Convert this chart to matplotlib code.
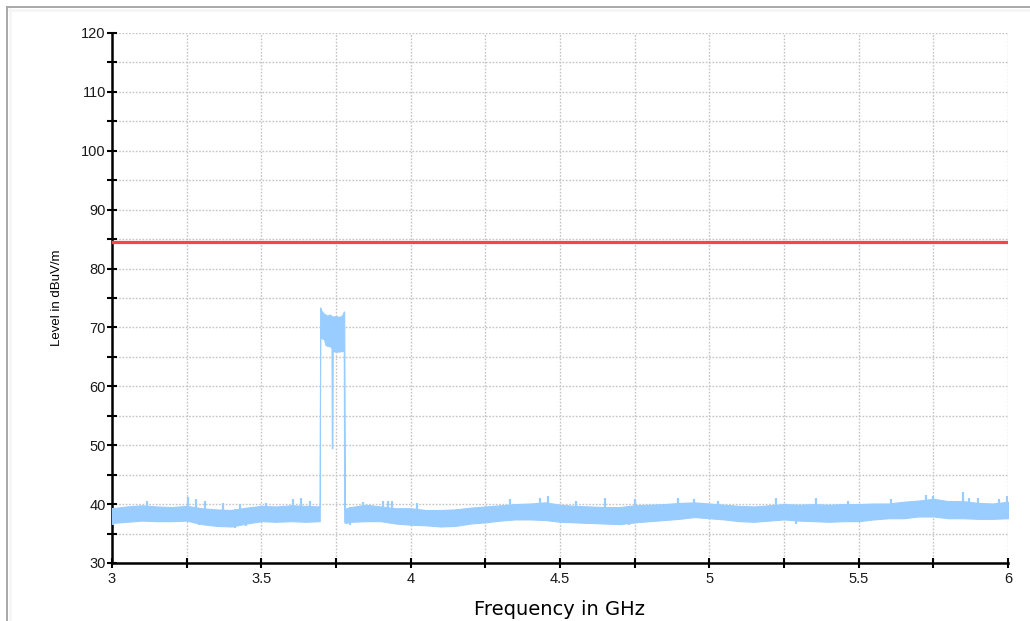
import matplotlib
matplotlib.use("Agg")
import matplotlib.pyplot as plt
from matplotlib.lines import Line2D
from matplotlib.ticker import MultipleLocator, FuncFormatter
import numpy as np

plt.rcParams['font.family'] = ['Liberation Sans', 'DejaVu Sans']

# Emission limit (dBuV/m)
limit_level = 84.5

# Background noise floor: envelope of the swept trace (GHz, dBuV/m)
floor_freq = [3.00, 3.05, 3.10, 3.15, 3.20, 3.25, 3.30, 3.35, 3.40, 3.45,
              3.50, 3.55, 3.60, 3.65, 3.695,
              3.78, 3.80, 3.85, 3.90, 3.95, 4.00, 4.05, 4.10, 4.15, 4.20,
              4.25, 4.30, 4.35, 4.40, 4.45, 4.50, 4.55, 4.60, 4.65, 4.70,
              4.75, 4.80, 4.85, 4.90, 4.95, 5.00, 5.05, 5.10, 5.15, 5.20,
              5.25, 5.30, 5.35, 5.40, 5.45, 5.50, 5.55, 5.60, 5.65, 5.70,
              5.75, 5.80, 5.85, 5.90, 5.95, 6.00]
floor_upper = [39.3, 39.6, 39.8, 39.6, 39.5, 39.7, 39.3, 39.1, 39.0, 39.4,
               39.7, 39.6, 39.8, 39.7, 39.6,
               39.2, 39.5, 39.9, 39.6, 39.3, 39.3, 39.0, 39.0, 39.1, 39.4,
               39.6, 39.8, 40.0, 40.1, 40.3, 39.9, 39.7, 39.6, 39.5, 39.5,
               39.8, 39.9, 40.0, 40.2, 40.3, 40.1, 39.9, 39.7, 39.6, 39.8,
               40.0, 39.9, 40.0, 39.9, 40.0, 40.0, 40.1, 40.1, 40.4, 40.6,
               40.9, 40.5, 40.5, 40.2, 40.1, 40.4]
floor_lower = [36.8, 37.0, 37.2, 37.1, 37.1, 37.2, 36.6, 36.3, 36.2, 36.7,
               37.1, 37.0, 37.1, 37.0, 37.1,
               36.8, 37.0, 37.1, 37.1, 36.7, 36.5, 36.4, 36.2, 36.3, 36.7,
               36.9, 37.2, 37.4, 37.4, 37.3, 37.0, 36.9, 36.8, 36.7, 36.6,
               36.9, 37.1, 37.3, 37.5, 37.8, 37.6, 37.4, 37.1, 37.0, 37.2,
               37.4, 37.2, 37.1, 37.0, 37.1, 37.1, 37.4, 37.6, 37.6, 37.9,
               37.9, 37.6, 37.6, 37.5, 37.5, 37.6]

# Isolated peaks rising above the floor
peak_freq = [3.118, 3.254, 3.282, 3.31, 3.372, 3.427, 3.517, 3.606, 3.634, 3.662,
             3.842, 3.909, 3.925, 3.937, 4.02, 4.333, 4.433, 4.461,
             4.554, 4.649, 4.75, 4.895, 4.95, 5.029, 5.224,
             5.357, 5.463, 5.609, 5.726, 5.748, 5.849, 5.869, 5.899, 5.971, 5.997]
peak_level = [40.5, 41.2, 40.9, 40.5, 40.2, 40.0, 40.2, 40.8, 41.0, 40.5,
              40.4, 40.5, 40.5, 40.5, 40.2, 40.8, 41.0, 41.3,
              40.5, 41.0, 40.8, 41.0, 40.8, 40.5, 41.0,
              41.0, 40.5, 40.8, 41.5, 41.3, 42.1, 41.0, 41.0, 40.8, 41.3]

# Dips falling below the floor
dip_freq = [3.004, 3.29, 3.411, 3.45, 3.797, 4.12, 4.154, 4.70, 4.73, 5.29, 5.508]
dip_level = [36.4, 36.5, 35.9, 36.2, 36.5, 36.1, 36.2, 36.5, 36.5, 36.7, 36.9]

# Occupied channel around 3.7 GHz
burst_freq = [3.6955, 3.697, 3.70, 3.71, 3.715, 3.72, 3.73, 3.735, 3.736, 3.738,
              3.739, 3.745, 3.75, 3.76, 3.77, 3.776, 3.7775]
burst_upper = [39.6, 73.4, 72.9, 72.3, 72.2, 72.0, 72.2, 71.9, 71.9, 71.9,
               71.8, 71.9, 71.9, 71.8, 72.0, 72.7, 72.7]
burst_lower = [37.1, 68.3, 68.2, 68.0, 67.0, 66.9, 66.8, 66.5, 49.5, 49.5,
               66.0, 65.9, 65.9, 65.9, 66.0, 66.0, 37.0]

trace_color = '#99CCFF'

fig = plt.figure(figsize=(10.30, 6.21), dpi=100)
fig.patch.set_facecolor('white')
ax = fig.add_axes([112 / 1030, 1 - 563 / 621, (1008 - 112) / 1030, (563 - 33) / 621])

# frame around the plot area
fig.add_artist(Line2D([7 / 1030, 1.0], [1 - 7 / 621, 1 - 7 / 621], transform=fig.transFigure,
                      color='#a8a8a8', lw=1.4))
fig.add_artist(Line2D([7 / 1030, 7 / 1030], [0.0, 1 - 7 / 621], transform=fig.transFigure,
                      color='#a8a8a8', lw=1.4))
fig.add_artist(Line2D([9 / 1030, 1.0], [1 - 9.5 / 621, 1 - 9.5 / 621], transform=fig.transFigure,
                      color='#f5f5f5', lw=2))
fig.add_artist(Line2D([9.5 / 1030, 9.5 / 1030], [0.0, 1 - 9 / 621], transform=fig.transFigure,
                      color='#f5f5f5', lw=2))

# trace: noise floor, channel burst, peaks and dips
freq = np.array(floor_freq[:15] + burst_freq + floor_freq[15:])
upper = np.array(floor_upper[:15] + burst_upper + floor_upper[15:])
lower = np.array(floor_lower[:15] + burst_lower + floor_lower[15:])
ax.fill_between(freq, lower, upper, color=trace_color, lw=0.8, edgecolor=trace_color, zorder=3)
ax.vlines(peak_freq, np.interp(peak_freq, freq, lower), peak_level, color=trace_color, lw=1.6, zorder=3)
ax.vlines(dip_freq, dip_level, np.interp(dip_freq, freq, upper), color=trace_color, lw=1.6, zorder=3)

# limit line
ax.axhline(limit_level, color='#f04848', lw=2.3, zorder=4)

ax.set_xlim(3, 6)
ax.set_ylim(30, 120)
ax.xaxis.set_major_locator(MultipleLocator(0.5))
ax.xaxis.set_minor_locator(MultipleLocator(0.25))
ax.yaxis.set_major_locator(MultipleLocator(10))
ax.yaxis.set_minor_locator(MultipleLocator(5))
ax.xaxis.set_major_formatter(FuncFormatter(lambda v, p: f'{v:g}'))

ax.grid(True, which='both', color='#c4c4c4', linestyle=(0, (1.2, 1.2)), lw=1.0, zorder=0)
ax.set_axisbelow(True)

for side in ('top', 'right'):
    ax.spines[side].set_visible(False)
for side in ('left', 'bottom'):
    ax.spines[side].set_linewidth(1.8)
    ax.spines[side].set_color('black')

ax.tick_params(which='both', direction='inout', length=7, width=1.5, color='black',
               labelsize=10.5, labelcolor='#1a1a1a')
ax.tick_params(axis='y', pad=1)
ax.tick_params(axis='x', pad=3)

ax.set_xlabel('Frequency in GHz', fontsize=14, labelpad=10,
              family=['DejaVu Sans'])
ax.set_ylabel('Level in dBuV/m', fontsize=9.5, labelpad=13)

fig.savefig('out.png', dpi=100)
